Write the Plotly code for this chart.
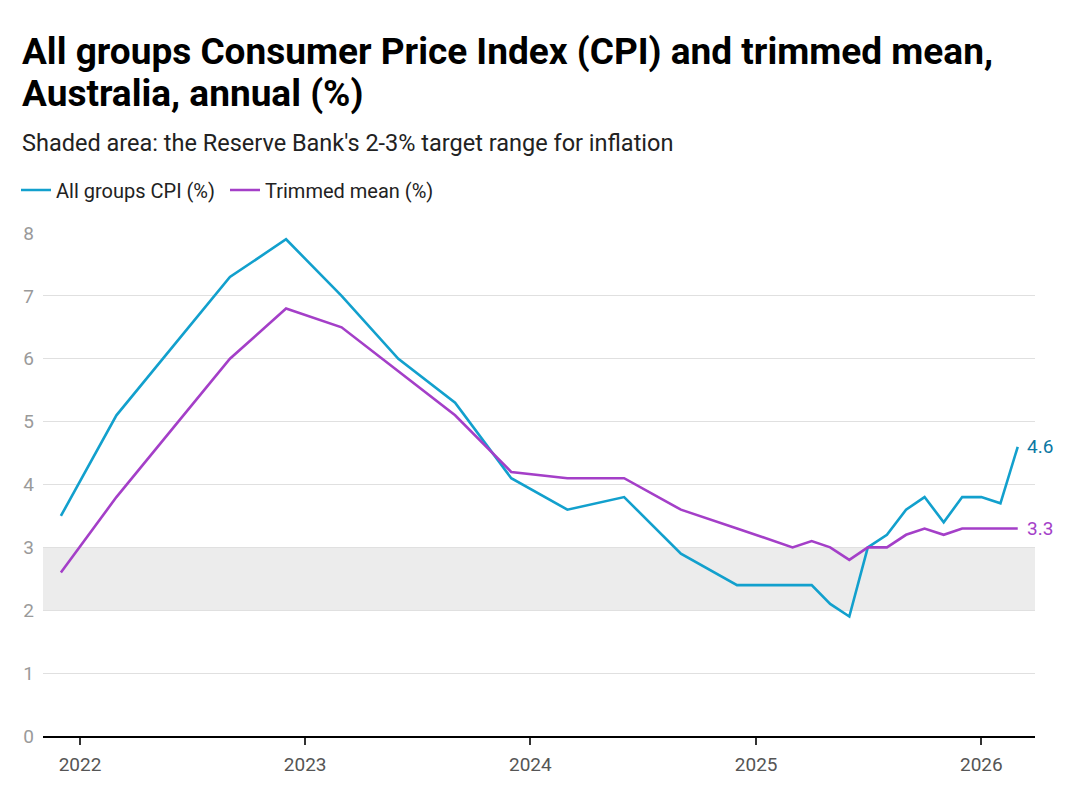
import plotly.graph_objects as go

# ---- data ----
dates = [
    "2021-12-01", "2022-03-01", "2022-06-01", "2022-09-01", "2022-12-01",
    "2023-03-01", "2023-06-01", "2023-09-01", "2023-12-01",
    "2024-03-01", "2024-06-01", "2024-09-01", "2024-12-01",
    "2025-03-01", "2025-04-01", "2025-05-01", "2025-06-01", "2025-07-01",
    "2025-08-01", "2025-09-01", "2025-10-01", "2025-11-01", "2025-12-01",
    "2026-01-01", "2026-02-01", "2026-03-01",
]
cpi = [3.5, 5.1, 6.2, 7.3, 7.9,
       7.0, 6.0, 5.3, 4.1,
       3.6, 3.8, 2.9, 2.4,
       2.4, 2.4, 2.1, 1.9, 3.0,
       3.2, 3.6, 3.8, 3.4, 3.8,
       3.8, 3.7, 4.6]
trimmed = [2.6, 3.8, 4.9, 6.0, 6.8,
           6.5, 5.8, 5.1, 4.2,
           4.1, 4.1, 3.6, 3.3,
           3.0, 3.1, 3.0, 2.8, 3.0,
           3.0, 3.2, 3.3, 3.2, 3.3,
           3.3, 3.3, 3.3]
target_low, target_high = 2, 3
y_ticks = [0, 1, 2, 3, 4, 5, 6, 7, 8]
x_ticks = ["2022-01-01", "2023-01-01", "2024-01-01", "2025-01-01", "2026-01-01"]
x_tick_labels = ["2022", "2023", "2024", "2025", "2026"]

CPI_COLOR = "#12a0cd"
CPI_LABEL_COLOR = "#0b78a3"
TM_COLOR = "#a43fc8"
FONT = "Roboto, Arial, sans-serif"

W, H = 1080, 801
ML, MR, MT, MB = 43, 45, 233, 65
PW, PH = W - ML - MR, H - MT - MB


def px(x):
    return (x - ML) / PW


def py(y):
    return (H - MB - y) / PH


fig = go.Figure()

fig.add_shape(type="rect", xref="paper", yref="y", x0=0, x1=1,
              y0=target_low, y1=target_high, fillcolor="#ececec",
              line_width=0, layer="below")

fig.add_trace(go.Scatter(x=dates, y=cpi, mode="lines", name="All groups CPI (%)",
                         line=dict(color=CPI_COLOR, width=2.6)))
fig.add_trace(go.Scatter(x=dates, y=trimmed, mode="lines", name="Trimmed mean (%)",
                         line=dict(color=TM_COLOR, width=2.6)))

# end labels
fig.add_annotation(x=dates[-1], y=cpi[-1], text=f"{cpi[-1]:.1f}", showarrow=False,
                   xanchor="left", yanchor="middle", xshift=7,
                   font=dict(family=FONT, size=19, color=CPI_LABEL_COLOR))
fig.add_annotation(x=dates[-1], y=trimmed[-1], text=f"{trimmed[-1]:.1f}", showarrow=False,
                   xanchor="left", yanchor="middle", xshift=7,
                   font=dict(family=FONT, size=19, color=TM_COLOR))

# title & subtitle
fig.add_annotation(xref="paper", yref="paper", x=px(20), y=py(52),
                   text="<b>All groups Consumer Price Index (CPI) and trimmed mean,</b>",
                   showarrow=False, xanchor="left", yanchor="middle",
                   font=dict(family=FONT, size=37, color="#000000"))
fig.add_annotation(xref="paper", yref="paper", x=px(20), y=py(93),
                   text="<b>Australia, annual (%)</b>",
                   showarrow=False, xanchor="left", yanchor="middle",
                   font=dict(family=FONT, size=37, color="#000000"))
fig.add_annotation(xref="paper", yref="paper", x=px(20), y=py(143),
                   text="Shaded area: the Reserve Bank's 2-3% target range for inflation",
                   showarrow=False, xanchor="left", yanchor="middle",
                   font=dict(family=FONT, size=23.5, color="#222222"))

fig.update_layout(
    width=W, height=H,
    margin=dict(l=ML, r=MR, t=MT, b=MB, autoexpand=False),
    paper_bgcolor="white", plot_bgcolor="white",
    font=dict(family=FONT, color="#222222"),
    showlegend=True,
    legend=dict(orientation="h", x=px(16), y=py(190), xanchor="left", yanchor="middle",
                font=dict(family=FONT, size=20, color="#222222"),
                itemwidth=30, entrywidth=164, entrywidthmode="pixels",
                tracegroupgap=0, bgcolor="rgba(0,0,0,0)"),
    xaxis=dict(type="date", range=["2021-11-02", "2026-03-29"],
               tickvals=x_ticks, ticktext=x_tick_labels,
               showgrid=False, zeroline=False,
               showline=True, linecolor="#000000", linewidth=1.5,
               ticks="outside", ticklen=7, tickwidth=1.5, tickcolor="#333333",
               ticklabelstandoff=3,
               tickfont=dict(family=FONT, size=19, color="#555555"),
               fixedrange=True),
    yaxis=dict(range=[0, 8], tickvals=y_ticks,
               showgrid=True, gridcolor="#e0e0e0", gridwidth=1,
               zeroline=False, showline=False, ticks="",
               ticklabelstandoff=8,
               tickfont=dict(family=FONT, size=19, color="#9a9a9a"),
               fixedrange=True),
)

fig.write_html("out.html")
